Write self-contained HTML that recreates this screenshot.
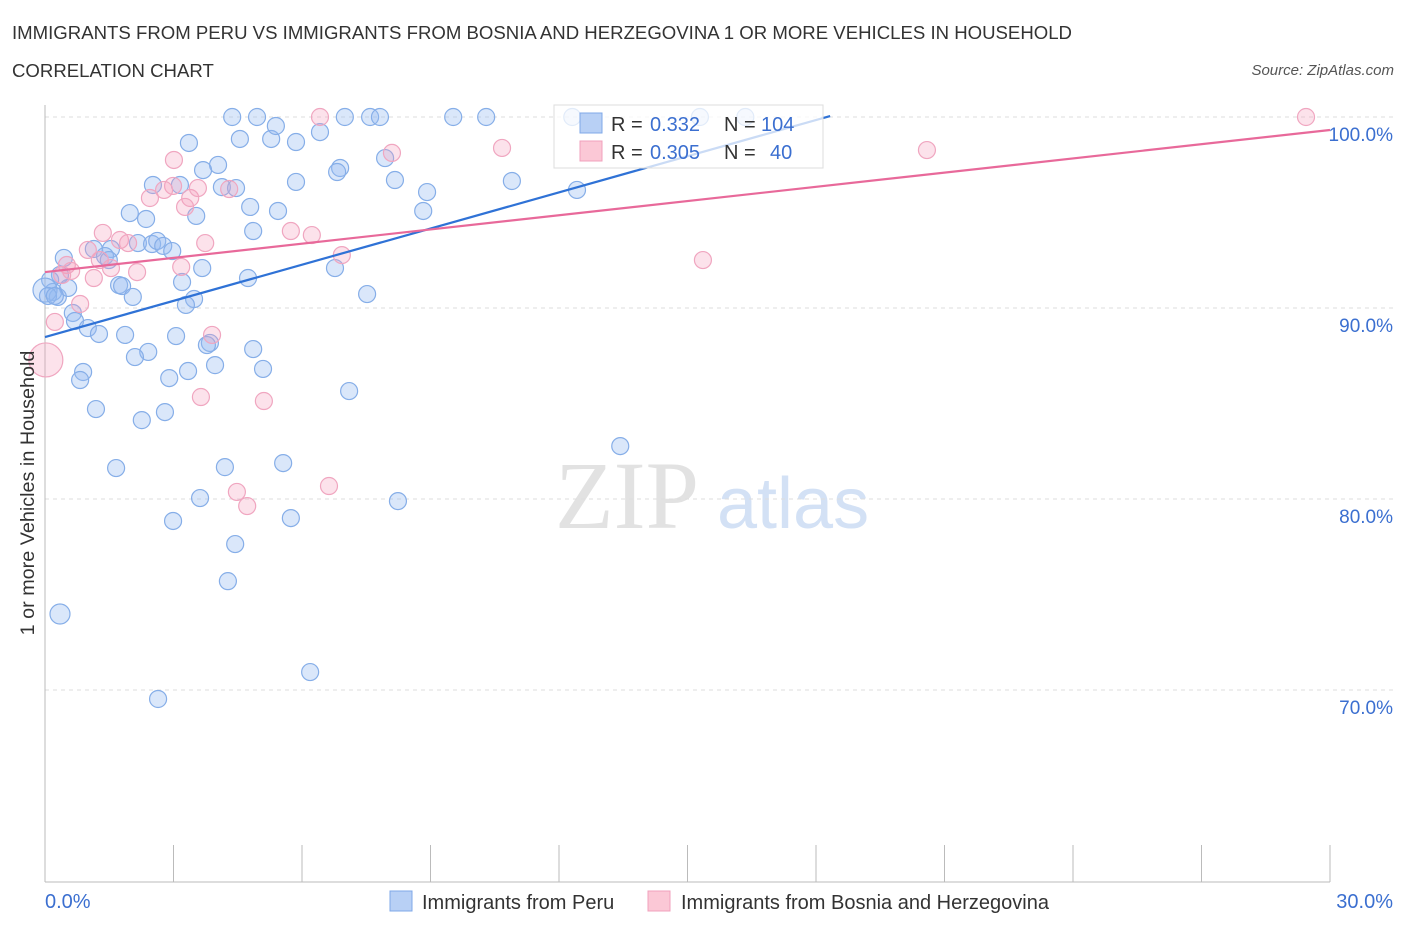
<!DOCTYPE html>
<html><head><meta charset="utf-8">
<style>
body{margin:0;background:#fff;font-family:"Liberation Sans",sans-serif;}
#wrap{position:relative;width:1406px;height:930px;overflow:hidden;}
.t{position:absolute;white-space:nowrap;}
</style></head>
<body>
<div id="wrap">
<div class="t" style="left:12px;top:22px;font-size:18.6px;color:#333;">IMMIGRANTS FROM PERU VS IMMIGRANTS FROM BOSNIA AND HERZEGOVINA 1 OR MORE VEHICLES IN HOUSEHOLD</div>
<div class="t" style="left:12px;top:60px;font-size:18.6px;color:#333;">CORRELATION CHART</div>
<div class="t" style="right:12px;top:62px;font-size:15px;color:#555;font-style:italic;">Source: ZipAtlas.com</div>
<svg id="svg" width="1406" height="930" style="position:absolute;left:0;top:0">
<text x="555" y="528" font-family="Liberation Serif" font-size="96" fill="#e2e2e2">ZIP</text>
<text x="717" y="528" font-family="Liberation Sans" font-size="72" fill="#d3e1f5">atlas</text>
<g id="grid"></g><g id="pts"></g><g id="lines"></g>
<rect x="554" y="105" width="269" height="63" fill="rgba(255,255,255,0.75)" stroke="#ddd"/>
<rect x="580" y="113" width="22" height="20" fill="#b8d0f5" stroke="#7fa8e8"/>
<rect x="580" y="141" width="22" height="20" fill="#fbc8d6" stroke="#f0a0bc"/>
<g font-size="20">
<text x="611" y="131" fill="#333">R =</text><text x="650" y="131" fill="#3b6fd0">0.332</text><text x="724" y="131" fill="#333">N =</text><text x="761" y="131" fill="#3b6fd0">104</text>
<text x="611" y="159" fill="#333">R =</text><text x="650" y="159" fill="#3b6fd0">0.305</text><text x="724" y="159" fill="#333">N =</text><text x="770" y="159" fill="#3b6fd0">40</text>
</g>
<text transform="translate(34,493) rotate(-90)" text-anchor="middle" font-size="19.8" fill="#333">1 or more Vehicles in Household</text>
<text x="45" y="908" font-size="20" fill="#3b6fd0">0.0%</text>
<text x="1393" y="908" text-anchor="end" font-size="20" fill="#3b6fd0">30.0%</text>
<rect x="390" y="891" width="22" height="20" fill="#b8d0f5" stroke="#7fa8e8"/>
<text x="422" y="909" font-size="20" fill="#333">Immigrants from Peru</text>
<rect x="648" y="891" width="22" height="20" fill="#fbc8d6" stroke="#f0a0bc"/>
<text x="681" y="909" font-size="20" fill="#333">Immigrants from Bosnia and Herzegovina</text>
</svg>
</div>
<script>
const peruX=[4.37,4.95,7.00,7.59,7.82,9.53,10.30,12.31,15.29,16.35,3.36,4.55,5.28,5.86,6.42,5.39,4.04,3.69,6.89,6.82,7.94,8.17,5.86,3.15,2.52,4.13,4.46,8.92,10.90,12.42,4.79,5.44,3.53,1.98,2.36,8.83,4.86,1.14,1.54,2.17,2.50,2.62,2.76,2.97,0.44,1.40,1.49,3.67,6.77,0.35,4.74,3.20,0.12,0.19,0.30,0.54,1.73,1.80,2.05,3.48,3.29,7.52,0.65,0.70,1.00,1.26,1.87,3.06,3.85,3.78,4.86,2.41,2.10,3.97,5.09,3.34,0.89,0.82,2.90,7.10,1.19,2.80,2.26,13.43,4.20,5.56,1.66,3.62,8.24,2.99,5.74,4.44,4.27,0.35,6.19,2.64,0.00,0.07,0.23];
const peruY=[100,100,100,100,100,100,100,100,100,100,98.64,98.85,98.85,98.69,99.21,99.53,97.49,97.22,97.33,97.12,97.85,96.70,96.60,96.44,96.44,96.33,96.28,96.07,96.65,96.18,95.29,95.08,94.82,94.97,94.66,95.08,94.03,93.09,93.09,93.40,93.35,93.51,93.25,92.98,92.62,92.72,92.51,92.09,92.09,91.73,91.57,91.36,91.47,90.84,90.58,91.05,91.20,91.15,90.58,90.47,90.16,90.73,89.74,89.32,88.95,88.64,88.59,88.53,88.17,88.06,87.85,87.70,87.43,87.01,86.81,86.70,86.65,86.23,86.33,85.65,84.71,84.55,84.13,82.77,81.67,81.88,81.62,80.05,79.89,78.85,79.00,77.64,75.70,73.98,70.94,69.53,90.94,90.63,90.63];
const bosX=[29.44,6.42,10.67,8.10,20.59,3.01,2.99,2.45,2.78,3.39,3.27,4.30,3.57,1.35,1.75,1.94,3.74,5.74,6.23,6.93,1.00,1.28,0.51,0.61,0.40,1.54,2.15,3.18,1.14,15.36,0.82,0.23,3.90,0.02,3.64,5.11,4.48,4.72,6.63];
const bosY=[100,100,98.38,98.12,98.27,97.75,96.39,95.76,96.18,95.76,95.29,96.23,96.28,93.93,93.56,93.40,93.40,94.03,93.82,92.77,93.04,92.51,92.25,91.94,91.73,92.09,91.88,92.15,91.57,92.51,90.21,89.27,88.59,87.28,85.34,85.13,80.37,79.63,80.68];
const yTicks=[100,90,80,70];
const peruTrend=[[0,88.48],[18.33,100.05]];
const bosTrend=[[0,91.88],[30,99.32]];
const X=v=>45+v/30*1285, Y=v=>117+(100-v)*19.1;
const NS='http://www.w3.org/2000/svg';
const grid=document.getElementById('grid'),pts=document.getElementById('pts'),lines=document.getElementById('lines');
function mk(tag,at,par){const e=document.createElementNS(NS,tag);for(const k in at)e.setAttribute(k,at[k]);par.appendChild(e);return e;}
yTicks.forEach(v=>{
 const l=mk('line',{x1:45,x2:1393,y1:Y(v),y2:Y(v),stroke:'#ddd','stroke-dasharray':'4,4'},grid);
 
 
 const t=mk('text',{x:1393,y:Y(v)+24,'text-anchor':'end','font-size':19,fill:'#3b6fd0'},grid);
 t.textContent=v.toFixed(1)+'%';
 
 
});
const ax=mk('line',{x1:45,x2:45,y1:105,y2:882,stroke:'#bbb'},grid);


const bx=mk('line',{x1:45,x2:1330,y1:882,y2:882,stroke:'#bbb'},grid);


for(let i=0;i<=10;i++){const tk=mk('line',{x1:X(i*3),x2:X(i*3),y1:845,y2:882,stroke:'#bbb'},grid);
 
 }
peruX.forEach((x,i)=>{const c=mk('circle',{cx:X(x),cy:Y(peruY[i]),r:i==96?12:(i==93?10:8.5),fill:'rgba(150,185,240,0.35)',stroke:'#86aee8','stroke-width':1.2},pts);
 
 });
bosX.forEach((x,i)=>{const c=mk('circle',{cx:X(x),cy:Y(bosY[i]),r:i==33?17:8.5,fill:'rgba(245,160,190,0.3)',stroke:'#f0a6c0','stroke-width':1.2},pts);
 
 });
const l1=mk('line',{x1:X(peruTrend[0][0]),y1:Y(peruTrend[0][1]),x2:X(peruTrend[1][0]),y2:Y(peruTrend[1][1]),stroke:'#2f72d6','stroke-width':2.2},lines);


const l2=mk('line',{x1:X(bosTrend[0][0]),y1:Y(bosTrend[0][1]),x2:X(bosTrend[1][0]),y2:Y(bosTrend[1][1]),stroke:'#e8699a','stroke-width':2.2},lines);


</script>
</body></html>
